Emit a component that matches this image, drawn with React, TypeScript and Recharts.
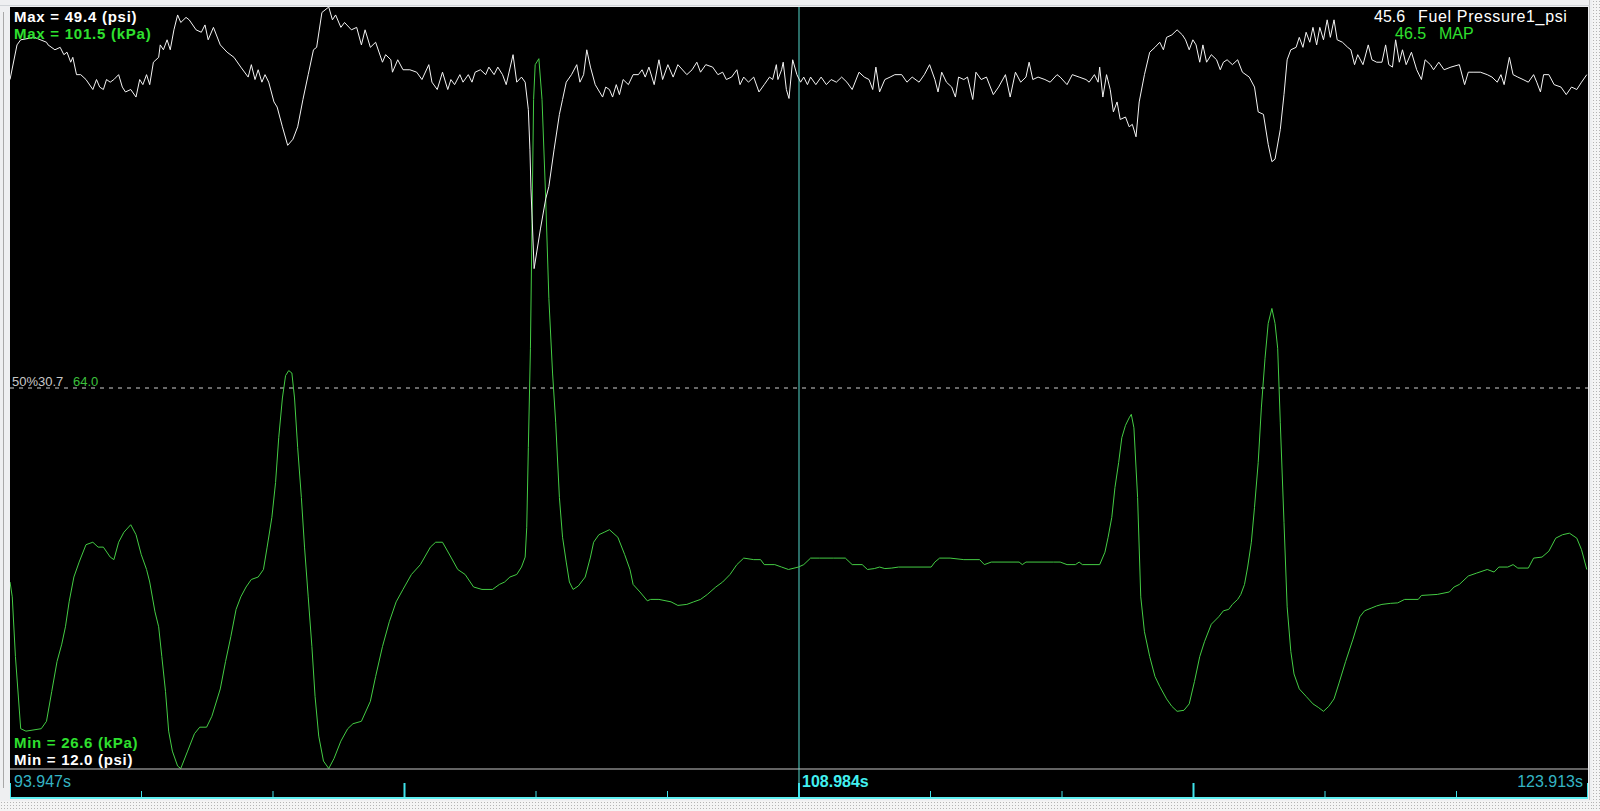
import React from 'react';
import { LineChart, Line, XAxis, YAxis, ReferenceLine } from 'recharts';

// ---------- axis / range values ----------
const timeRange = [93.947, 123.913];
const startLabel = '93.947s';
const endLabel = '123.913s';
const cursorLabel = '108.984s';
const cursorTime = 108.93;
const psiRange = [12.0, 49.4];
const kpaRange = [26.6, 101.5];
const midPsi = 30.7;
const midKpa = 64.0;
const cursorPsi = '45.6';
const cursorKpa = '46.5';
const fuelName = 'Fuel Pressure1_psi';
const mapName = 'MAP';

// ---------- Fuel Pressure1 (psi) ----------
const fuelTime = [
  93.947, 94.08, 94.15, 94.41, 94.64, 94.67, 94.80, 94.90, 94.97, 95.03,
  95.10, 95.14, 95.21, 95.29, 95.39, 95.52, 95.59, 95.65, 95.72, 95.78,
  95.85, 95.92, 96.01, 96.08, 96.14, 96.24, 96.34, 96.41, 96.47, 96.54,
  96.60, 96.67, 96.77, 96.80, 96.86, 96.93, 96.99, 97.06, 97.13, 97.19,
  97.29, 97.35, 97.48, 97.58, 97.65, 97.71, 97.81, 97.94, 98.07, 98.20,
  98.33, 98.47, 98.53, 98.60, 98.66, 98.73, 98.79, 98.86, 98.96, 99.02,
  99.12, 99.22, 99.32, 99.41, 99.51, 99.61, 99.71, 99.77, 99.87, 100.00,
  100.07, 100.13, 100.23, 100.30, 100.43, 100.53, 100.62, 100.69, 100.79, 100.89,
  101.02, 101.08, 101.18, 101.21, 101.31, 101.41, 101.54, 101.67, 101.77, 101.90,
  101.96, 102.06, 102.16, 102.26, 102.32, 102.39, 102.49, 102.55, 102.65, 102.72,
  102.78, 102.88, 102.98, 103.04, 103.14, 103.21, 103.30, 103.37, 103.50, 103.57,
  103.66, 103.73, 103.79, 103.82, 103.84, 103.90, 104.02, 104.12, 104.18, 104.28,
  104.38, 104.44, 104.51, 104.61, 104.71, 104.77, 104.84, 104.90, 104.97, 105.06,
  105.20, 105.26, 105.33, 105.39, 105.46, 105.52, 105.59, 105.69, 105.78, 105.88,
  105.95, 106.01, 106.08, 106.18, 106.27, 106.34, 106.44, 106.54, 106.63, 106.80,
  106.90, 106.99, 107.06, 107.16, 107.29, 107.39, 107.48, 107.55, 107.65, 107.75,
  107.81, 107.88, 107.97, 108.07, 108.17, 108.27, 108.37, 108.43, 108.50, 108.53,
  108.60, 108.63, 108.69, 108.74, 108.81, 108.89, 108.96, 109.02, 109.09, 109.15,
  109.25, 109.35, 109.45, 109.54, 109.64, 109.74, 109.84, 109.94, 110.07, 110.17,
  110.26, 110.33, 110.39, 110.46, 110.56, 110.66, 110.75, 110.88, 110.98, 111.08,
  111.21, 111.31, 111.41, 111.51, 111.57, 111.64, 111.73, 111.83, 111.90, 111.96,
  112.06, 112.13, 112.23, 112.29, 112.39, 112.49, 112.62, 112.72, 112.85, 112.94,
  113.04, 113.14, 113.24, 113.30, 113.37, 113.47, 113.60, 113.70, 113.83, 113.89,
  114.02, 114.12, 114.25, 114.38, 114.44, 114.54, 114.61, 114.64, 114.70, 114.77,
  114.84, 114.90, 114.97, 115.03, 115.13, 115.20, 115.26, 115.33, 115.39, 115.49,
  115.59, 115.69, 115.78, 115.85, 115.91, 116.01, 116.11, 116.21, 116.27, 116.34,
  116.41, 116.47, 116.54, 116.60, 116.67, 116.76, 116.86, 116.93, 116.99, 117.06,
  117.16, 117.26, 117.35, 117.48, 117.58, 117.65, 117.75, 117.84, 117.91, 117.97,
  118.07, 118.14, 118.20, 118.27, 118.37, 118.43, 118.50, 118.56, 118.63, 118.69,
  118.76, 118.82, 118.89, 118.96, 119.02, 119.09, 119.15, 119.25, 119.35, 119.41,
  119.48, 119.54, 119.64, 119.74, 119.81, 119.90, 120.00, 120.07, 120.13, 120.20,
  120.26, 120.33, 120.39, 120.46, 120.56, 120.66, 120.75, 120.82, 120.92, 120.98,
  121.08, 121.18, 121.31, 121.47, 121.57, 121.64, 121.73, 121.87, 122.00, 122.09,
  122.19, 122.26, 122.32, 122.42, 122.49, 122.58, 122.68, 122.78, 122.88, 122.94,
  123.01, 123.07, 123.17, 123.27, 123.40, 123.50, 123.60, 123.70, 123.79, 123.89,
];
const fuelPsi = [
  45.84, 47.54, 47.79, 47.91, 47.67, 47.54, 47.30, 47.42, 47.06, 47.18,
  46.69, 46.93, 46.08, 46.08, 45.84, 45.35, 45.84, 45.47, 45.35, 45.84,
  45.71, 45.84, 46.08, 45.47, 45.23, 45.35, 44.98, 45.84, 45.59, 46.08,
  45.59, 46.69, 46.93, 47.54, 47.30, 47.79, 47.30, 48.28, 49.01, 48.64,
  48.89, 48.77, 48.28, 48.16, 48.52, 47.79, 48.40, 47.54, 47.18, 46.93,
  46.45, 45.96, 46.57, 45.84, 46.32, 45.71, 46.08, 45.71, 44.74, 44.49,
  43.52, 42.61, 42.91, 43.52, 44.86, 46.08, 47.30, 47.42, 49.13, 49.40,
  48.77, 49.01, 48.40, 48.64, 48.28, 48.40, 47.54, 48.28, 47.42, 47.67,
  46.69, 47.06, 46.81, 46.20, 46.81, 46.32, 46.32, 46.20, 45.84, 46.57,
  45.71, 45.35, 46.20, 45.35, 45.84, 45.59, 46.08, 45.71, 46.08, 45.71,
  46.20, 46.32, 46.08, 46.45, 46.08, 46.45, 46.08, 45.59, 47.06, 45.71,
  45.96, 45.71, 44.37, 42.42, 40.47, 36.56, 38.51, 39.98, 40.59, 42.42,
  44.13, 44.86, 45.71, 46.08, 46.57, 45.71, 46.08, 47.30, 46.45, 45.59,
  44.98, 45.47, 45.35, 44.98, 45.59, 45.10, 45.84, 45.59, 46.08, 46.08,
  46.32, 45.96, 46.45, 45.59, 46.81, 45.84, 46.57, 45.96, 46.57, 46.08,
  46.32, 46.69, 46.20, 46.57, 46.45, 46.08, 46.20, 45.84, 45.96, 46.32,
  45.59, 45.96, 45.71, 45.96, 45.23, 45.59, 45.96, 45.84, 46.57, 45.84,
  46.32, 46.69, 45.35, 44.91, 46.81, 46.08, 45.71, 45.96, 45.59, 45.96,
  45.59, 45.96, 45.59, 45.84, 45.71, 45.96, 45.71, 45.35, 46.20, 45.96,
  45.84, 45.35, 46.45, 45.23, 45.84, 45.96, 46.08, 46.08, 45.71, 45.96,
  45.71, 46.08, 46.57, 45.84, 45.23, 46.20, 45.71, 45.47, 44.98, 45.96,
  45.84, 45.96, 44.86, 46.20, 45.84, 45.96, 45.10, 45.47, 46.08, 44.98,
  46.20, 45.71, 45.96, 46.69, 45.84, 45.96, 45.84, 45.71, 46.08, 45.96,
  45.59, 46.08, 45.96, 45.84, 45.71, 46.08, 45.71, 46.45, 44.98, 46.08,
  45.35, 44.25, 44.74, 43.88, 44.00, 43.52, 43.64, 43.03, 44.74, 46.08,
  47.18, 47.42, 47.67, 47.30, 47.91, 48.03, 48.28, 48.03, 47.79, 47.30,
  47.79, 47.54, 46.69, 47.54, 46.69, 47.06, 46.81, 46.32, 46.69, 46.81,
  46.57, 46.81, 46.20, 45.96, 45.47, 44.25, 44.13, 42.66, 41.81, 41.93,
  43.39, 45.10, 46.81, 47.30, 47.42, 47.91, 47.42, 48.16, 47.67, 48.40,
  47.54, 48.40, 47.79, 48.77, 47.91, 48.77, 47.79, 47.67, 47.42, 47.30,
  46.57, 47.06, 46.57, 47.54, 46.81, 46.69, 46.69, 47.54, 46.57, 46.45,
  47.79, 46.69, 47.30, 46.57, 47.18, 46.32, 45.84, 46.81, 46.57, 46.32,
  46.69, 46.32, 46.45, 46.57, 45.59, 46.20, 46.20, 46.20, 46.08, 45.96,
  45.71, 46.08, 45.59, 46.93, 46.08, 45.96, 45.84, 45.71, 46.08, 45.71,
  45.23, 46.08, 46.08, 45.59, 45.47, 45.10, 45.47, 45.35, 45.71, 46.08,
];

// ---------- MAP (kPa) ----------
const mapTime = [
  93.947, 93.99, 94.05, 94.15, 94.25, 94.54, 94.64, 94.74, 94.84, 94.93,
  95.00, 95.07, 95.16, 95.26, 95.39, 95.52, 95.62, 95.72, 95.85, 95.92,
  96.01, 96.11, 96.24, 96.34, 96.44, 96.54, 96.60, 96.70, 96.77, 96.83,
  96.90, 96.96, 97.03, 97.13, 97.19, 97.32, 97.45, 97.55, 97.68, 97.78,
  97.94, 98.04, 98.14, 98.24, 98.33, 98.43, 98.53, 98.66, 98.76, 98.83,
  98.92, 98.99, 99.05, 99.12, 99.18, 99.24, 99.30, 99.35, 99.41, 99.48,
  99.54, 99.61, 99.68, 99.74, 99.81, 99.90, 100.00, 100.10, 100.23, 100.36,
  100.46, 100.62, 100.79, 100.89, 101.02, 101.15, 101.28, 101.41, 101.57, 101.74,
  101.93, 102.03, 102.16, 102.32, 102.45, 102.59, 102.75, 102.91, 103.11, 103.24,
  103.34, 103.44, 103.57, 103.66, 103.73, 103.76, 103.79, 103.83, 103.86, 103.89,
  103.92, 103.99, 104.05, 104.12, 104.18, 104.25, 104.31, 104.38, 104.44, 104.51,
  104.57, 104.64, 104.74, 104.87, 104.97, 105.03, 105.13, 105.23, 105.33, 105.49,
  105.62, 105.72, 105.78, 105.91, 106.05, 106.11, 106.27, 106.50, 106.63, 106.80,
  106.93, 107.06, 107.19, 107.35, 107.48, 107.62, 107.75, 107.88, 108.07, 108.20,
  108.27, 108.47, 108.60, 108.73, 108.92, 109.02, 109.15, 109.32, 109.58, 109.81,
  109.94, 110.13, 110.23, 110.36, 110.46, 110.56, 110.69, 110.82, 111.44, 111.51,
  111.60, 111.80, 112.06, 112.36, 112.45, 112.58, 113.11, 113.17, 113.24, 113.76,
  113.89, 114.02, 114.18, 114.25, 114.31, 114.64, 114.74, 114.80, 114.87, 114.93,
  115.00, 115.06, 115.13, 115.20, 115.24, 115.29, 115.36, 115.42, 115.49, 115.59,
  115.69, 115.78, 115.91, 116.01, 116.11, 116.24, 116.34, 116.44, 116.54, 116.63,
  116.76, 116.90, 116.99, 117.09, 117.16, 117.26, 117.32, 117.39, 117.45, 117.52,
  117.58, 117.65, 117.71, 117.78, 117.84, 117.91, 117.97, 118.02, 118.07, 118.14,
  118.20, 118.27, 118.33, 118.43, 118.56, 118.69, 118.79, 118.89, 118.99, 119.09,
  119.18, 119.31, 119.45, 119.58, 119.67, 119.81, 119.90, 120.00, 120.16, 120.30,
  120.43, 120.69, 120.75, 121.05, 121.28, 121.37, 121.47, 121.64, 121.80, 122.00,
  122.13, 122.22, 122.39, 122.49, 122.58, 122.78, 122.88, 123.04, 123.17, 123.30,
  123.43, 123.56, 123.70, 123.79, 123.89,
];
const mapKpa = [
  44.98, 43.52, 37.65, 30.56, 30.32, 30.56, 31.29, 34.23, 37.16, 38.87,
  40.58, 43.03, 45.47, 46.94, 48.65, 48.89, 48.41, 48.41, 47.43, 47.18,
  48.89, 49.87, 50.61, 49.63, 47.67, 46.21, 44.98, 42.05, 40.58, 37.65,
  34.23, 30.32, 28.36, 26.89, 26.65, 28.36, 30.07, 30.71, 30.71, 31.78,
  34.47, 37.16, 39.60, 42.29, 43.52, 44.49, 45.23, 45.47, 46.21, 48.41,
  51.34, 54.76, 59.16, 63.07, 65.27, 65.76, 65.52, 63.07, 58.18, 53.29,
  48.41, 43.52, 38.63, 33.74, 29.83, 27.38, 26.65, 27.63, 29.34, 30.56,
  31.05, 31.29, 33.25, 35.69, 38.63, 41.07, 43.03, 44.25, 45.72, 46.69,
  48.41, 48.89, 48.89, 47.43, 46.21, 45.72, 44.49, 44.25, 44.25, 44.74,
  44.98, 45.47, 45.72, 46.45, 47.43, 50.36, 58.18, 67.96, 80.18, 92.41,
  95.83, 96.42, 92.41, 82.63, 72.85, 65.52, 60.63, 53.29, 49.38, 46.94,
  44.98, 44.25, 44.59, 45.47, 47.43, 48.89, 49.63, 49.87, 50.12, 49.38,
  47.67, 46.21, 44.74, 44.00, 43.13, 43.27, 43.27, 43.03, 42.68, 42.78,
  43.03, 43.27, 43.76, 44.49, 44.98, 45.72, 46.69, 47.33, 47.18, 47.18,
  46.69, 46.69, 46.45, 46.21, 46.45, 46.69, 47.33, 47.33, 47.33, 47.33,
  46.69, 46.69, 46.21, 46.30, 46.45, 46.30, 46.35, 46.45, 46.45, 46.94,
  47.33, 47.33, 47.18, 47.18, 46.69, 46.94, 46.94, 46.69, 46.94, 46.94,
  46.94, 46.69, 46.69, 46.94, 46.69, 46.69, 47.91, 49.38, 51.34, 54.27,
  56.72, 59.16, 60.38, 61.12, 61.46, 60.14, 53.29, 43.52, 40.09, 37.65,
  35.69, 34.72, 33.49, 32.76, 32.27, 32.37, 33.00, 35.20, 37.65, 39.11,
  40.83, 41.56, 42.15, 42.29, 42.78, 43.27, 43.76, 44.74, 46.45, 48.89,
  52.32, 56.72, 62.09, 66.98, 70.40, 71.87, 70.40, 67.96, 60.63, 50.85,
  42.54, 38.14, 35.94, 34.47, 33.74, 33.00, 32.66, 32.27, 32.76, 33.49,
  34.96, 37.16, 39.36, 41.56, 42.15, 42.44, 42.63, 42.78, 42.88, 42.93,
  43.27, 43.27, 43.66, 43.76, 44.00, 44.49, 44.74, 45.57, 45.86, 46.21,
  45.96, 46.45, 46.45, 46.69, 46.35, 46.35, 47.33, 47.43, 48.01, 49.29,
  49.63, 49.78, 49.29, 48.16, 46.21,
];

const fuelData = fuelTime.map((t, i) => ({ t, psi: fuelPsi[i] }));
const mapData = mapTime.map((t, i) => ({ t, kpa: mapKpa[i] }));

const tickDivisions = 12;
const axisTicks = Array.from(
  { length: tickDivisions + 1 },
  (_, i) => timeRange[0] + (i * (timeRange[1] - timeRange[0])) / tickDivisions
);
const cursorTickIndex = 6;

const CHART_W = 1578;
const CHART_H = 792;
const AXIS_H = 30;
const FONT = '"Liberation Sans", Arial, sans-serif';
const TICK_COLOR = '#3fe2ea';
const CURSOR_COLOR = '#55d8cc';
const LABEL_GREEN = '#2fe02f';
const LINE_GREEN = '#44cc44';

const AxisTick = (props: any) => {
  const { x, y, index } = props;
  const major = index % 3 === 0;
  const h = major ? 15 : 7;
  const bottom = y + AXIS_H - 1;
  return (
    <g>
      {index === cursorTickIndex && (
        <line x1={x} x2={x} y1={y} y2={bottom} stroke={CURSOR_COLOR} strokeWidth={1} />
      )}
      <line x1={x} x2={x} y1={bottom - h} y2={bottom} stroke={TICK_COLOR} strokeWidth={major ? 2 : 1} />
      {index === 0 && (
        <text x={x + 4} y={y + 18} fill="#34b4c4" fontSize={16} fontFamily={FONT}>
          {startLabel}
        </text>
      )}
      {index === cursorTickIndex && (
        <text x={x + 3} y={y + 18} fill="#42f0f0" fontSize={16} fontWeight="bold" fontFamily={FONT}>
          {cursorLabel}
        </text>
      )}
      {index === tickDivisions && (
        <text x={x - 5} y={y + 18} fill="#34b4c4" fontSize={16} fontFamily={FONT} textAnchor="end">
          {endLabel}
        </text>
      )}
    </g>
  );
};

const dots: React.CSSProperties = {
  position: 'absolute',
  backgroundColor: '#f4f4f4',
  backgroundImage: 'radial-gradient(#b4b4b4 0.7px, transparent 0.9px)',
  backgroundSize: '3px 3px',
};

export default function App() {
  return (
    <div
      style={{
        position: 'relative',
        width: 1600,
        height: 811,
        background: '#eeeff1',
        overflow: 'hidden',
        fontFamily: FONT,
      }}
    >
      <style>{`body{margin:0}`}</style>
      <div style={{ ...dots, left: 0, top: 801, width: 1600, height: 10 }} />
      <div style={{ ...dots, left: 1592, top: 0, width: 8, height: 811 }} />
      <div style={{ position: 'absolute', left: 1589, top: 0, width: 1, height: 800, background: '#c4c4c4' }} />
      <div style={{ position: 'absolute', left: 3, top: 12, width: 1, height: 776, background: '#a8a8a8' }} />
      <div style={{ position: 'absolute', left: 0, top: 5, width: 1590, height: 1, background: '#d0d4d8' }} />

      <div style={{ position: 'absolute', left: 10, top: 7, width: CHART_W, height: CHART_H, background: '#000' }}>
        <LineChart width={CHART_W} height={CHART_H} margin={{ top: 0, right: 0, bottom: 0, left: 0 }}>
          <XAxis
            dataKey="t"
            type="number"
            domain={timeRange}
            allowDataOverflow
            ticks={axisTicks}
            interval={0}
            height={AXIS_H}
            tickSize={0}
            tickMargin={0}
            tickLine={false}
            axisLine={{ stroke: '#c6c6c6' }}
            tick={(p: any) => <AxisTick {...p} />}
          />
          <YAxis yAxisId="psi" type="number" domain={psiRange} allowDataOverflow hide />
          <YAxis yAxisId="kpa" type="number" domain={kpaRange} allowDataOverflow hide />
          <ReferenceLine yAxisId="psi" y={midPsi} stroke="#cfcfcf" strokeDasharray="4 5" />
          <ReferenceLine yAxisId="psi" x={cursorTime} stroke={CURSOR_COLOR} />
          <Line
            yAxisId="kpa"
            data={mapData}
            dataKey="kpa"
            type="linear"
            stroke={LINE_GREEN}
            strokeWidth={1}
            dot={false}
            isAnimationActive={false}
          />
          <Line
            yAxisId="psi"
            data={fuelData}
            dataKey="psi"
            type="linear"
            stroke="#f4f4f4"
            strokeWidth={1}
            dot={false}
            isAnimationActive={false}
          />
        </LineChart>
      </div>
      <div style={{ position: 'absolute', left: 10, top: 797, width: CHART_W, height: 2, background: '#5eeef0' }} />

      <svg
        width={1600}
        height={811}
        style={{ position: 'absolute', left: 0, top: 0, pointerEvents: 'none' }}
        fontFamily={FONT}
      >
        <text x={14} y={22} fill="#ffffff" fontSize={15} fontWeight="bold" letterSpacing={0.75}>
          Max = {psiRange[1].toFixed(1)} (psi)
        </text>
        <text x={14} y={39} fill={LABEL_GREEN} fontSize={15} fontWeight="bold" letterSpacing={0.75}>
          Max = {kpaRange[1].toFixed(1)} (kPa)
        </text>
        <text x={14} y={748} fill={LABEL_GREEN} fontSize={15} fontWeight="bold" letterSpacing={0.7}>
          Min = {kpaRange[0].toFixed(1)} (kPa)
        </text>
        <text x={14} y={765} fill="#ffffff" fontSize={15} fontWeight="bold" letterSpacing={0.7}>
          Min = {psiRange[0].toFixed(1)} (psi)
        </text>
        <text x={12} y={386} fill="#c8c8c8" fontSize={13}>
          50%{midPsi.toFixed(1)}
        </text>
        <text x={73} y={386} fill="#3cc03c" fontSize={13}>
          {midKpa.toFixed(1)}
        </text>
        <text x={1374} y={22} fill="#ffffff" fontSize={16}>
          {cursorPsi}
        </text>
        <text x={1418} y={22} fill="#ffffff" fontSize={16} letterSpacing={0.65}>
          {fuelName}
        </text>
        <text x={1395} y={39} fill={LABEL_GREEN} fontSize={16}>
          {cursorKpa}
        </text>
        <text x={1439} y={39} fill={LABEL_GREEN} fontSize={16}>
          {mapName}
        </text>
      </svg>
    </div>
  );
}
